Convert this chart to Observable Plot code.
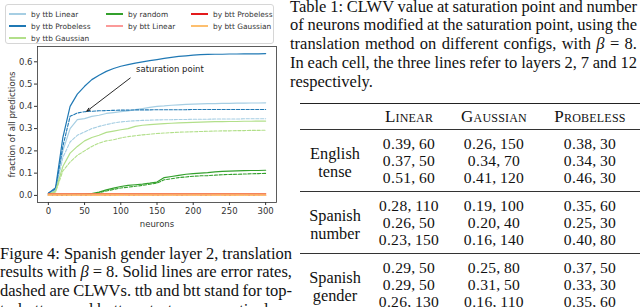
<!DOCTYPE html>
<html>
<head>
<meta charset="utf-8">
<script src="https://cdn.jsdelivr.net/npm/d3@7"></script>
<script src="https://cdn.jsdelivr.net/npm/@observablehq/plot@0.6"></script>
<style>
  html, body { margin: 0; padding: 0; background: #fff; }
  #page { position: relative; width: 640px; height: 307px; overflow: hidden; background: #fff; }
  #chart { position: absolute; left: 0; top: 0; }
  #legend { position: absolute; left: 5px; top: 4px; width: 269px; height: 40px; box-sizing: border-box;
    border: 1px solid #d6d6d6; border-radius: 3px; background: rgba(255,255,255,0.9);
    font-family: "DejaVu Sans", sans-serif; font-size: 7.4px; color: #333;
    display: grid; grid-template-rows: repeat(3, 12px);
    grid-template-columns: 97px 85px auto; padding: 3px 0 0 3px; }
  .li { display: flex; align-items: center; white-space: nowrap; }
  .sw { width: 17px; height: 1.5px; margin-right: 5px; }
  .cap { position: absolute; font-family: "Liberation Serif", "Times New Roman", serif; font-size: 16.5px;
    line-height: 18.8px; color: #111; }
  .cap div { white-space: nowrap; }
  #tbl { position: absolute; left: 300px; top: 103px; border-collapse: collapse;
    font-family: "Liberation Serif", "Times New Roman", serif; font-size: 15.6px; letter-spacing: 0.3px; color: #111; }
  #tbl th { font-weight: normal; font-variant: small-caps; font-size: 17px; letter-spacing: 0.2px; height: 25px; padding: 0; text-align: center; }
  #tbl td { padding: 0; height: 17px; line-height: 17px; text-align: center; }
  #tbl thead tr { border-top: 1.4px solid #222; border-bottom: 0.9px solid #333; }
  #tbl tbody { border-bottom: 0.9px solid #333; }
  #tbl tbody tr:first-child td { padding-top: 5px; }
  #tbl tbody tr:last-child td { padding-bottom: 5px; }
  #tbl td.lab { vertical-align: middle; letter-spacing: 0; }
  #tbl td.lab div { font-size: 16.3px; line-height: 18px; height: 18px; }
</style>
</head>
<body>
<div id="page">
  <div id="chart"></div>
  <div id="legend"></div>
  <div class="cap" id="figcap" style="left:0px; top:244.5px; width:292px;"></div>
  <div class="cap" id="tabcap" style="left:290px; top:-2.5px; width:347px;"></div>
  <table id="tbl"></table>
</div>
<script>
// ---------------- data ----------------
const neurons = [0,10,20,30,40,50,60,70,80,90,100,110,120,130,140,150,160,170,180,190,200,210,220,230,240,250,260,270,280,290,300];

const configs = ["by ttb Linear","by ttb Probeless","by ttb Gaussian","by random","by btt Linear","by btt Probeless","by btt Gaussian"];
const colors  = ["#a6cee3","#1f78b4","#b2df8a","#33a02c","#fb9a99","#e31a1c","#fdbf6f"];

// error rates (solid)
const ttbLinearErr    = [0.01,0.025,0.20,0.30,0.34,0.345,0.355,0.36,0.368,0.372,0.376,0.38,0.385,0.39,0.395,0.40,0.402,0.405,0.407,0.409,0.41,0.411,0.412,0.412,0.413,0.413,0.414,0.414,0.415,0.415,0.416];
const ttbProbelessErr = [0.01,0.035,0.26,0.40,0.455,0.49,0.52,0.54,0.557,0.57,0.58,0.587,0.594,0.60,0.605,0.61,0.615,0.62,0.624,0.627,0.63,0.632,0.633,0.634,0.634,0.635,0.635,0.636,0.636,0.636,0.637];
const ttbGaussianErr  = [0.005,0.02,0.13,0.19,0.22,0.245,0.26,0.27,0.283,0.289,0.295,0.30,0.31,0.315,0.318,0.32,0.322,0.324,0.326,0.327,0.328,0.329,0.33,0.331,0.331,0.332,0.332,0.333,0.333,0.334,0.334];
const randomErr       = [0.004,0.004,0.004,0.004,0.005,0.005,0.008,0.015,0.025,0.033,0.04,0.045,0.048,0.051,0.055,0.06,0.08,0.085,0.09,0.095,0.098,0.10,0.102,0.106,0.108,0.109,0.11,0.111,0.112,0.112,0.113];
const bttLinearErr    = [0.006,0.006,0.006,0.006,0.006,0.006,0.006,0.006,0.006,0.006,0.006,0.006,0.006,0.006,0.006,0.006,0.006,0.006,0.006,0.006,0.006,0.006,0.006,0.006,0.006,0.006,0.006,0.006,0.006,0.006,0.006];
const bttProbelessErr = [0.007,0.007,0.007,0.007,0.007,0.007,0.007,0.007,0.007,0.007,0.007,0.007,0.007,0.007,0.007,0.007,0.007,0.007,0.007,0.007,0.007,0.007,0.007,0.007,0.007,0.007,0.007,0.007,0.007,0.007,0.007];
const bttGaussianErr  = [0.006,0.006,0.006,0.006,0.006,0.006,0.006,0.006,0.006,0.006,0.006,0.006,0.006,0.006,0.006,0.006,0.006,0.006,0.006,0.006,0.006,0.006,0.006,0.006,0.006,0.006,0.006,0.006,0.006,0.006,0.006];

// CLWVs (dashed)
const ttbLinearClwv    = [0.01,0.02,0.17,0.24,0.27,0.285,0.30,0.31,0.318,0.325,0.33,0.333,0.335,0.337,0.338,0.339,0.34,0.34,0.341,0.341,0.342,0.342,0.342,0.343,0.343,0.343,0.343,0.344,0.344,0.344,0.344];
const ttbProbelessClwv = [0.01,0.03,0.22,0.355,0.37,0.376,0.378,0.38,0.381,0.382,0.383,0.383,0.384,0.384,0.384,0.385,0.385,0.385,0.385,0.385,0.386,0.386,0.386,0.386,0.386,0.386,0.386,0.386,0.386,0.386,0.386];
const ttbGaussianClwv  = [0.005,0.015,0.11,0.15,0.18,0.20,0.22,0.235,0.245,0.25,0.258,0.264,0.268,0.272,0.275,0.278,0.28,0.282,0.284,0.285,0.286,0.287,0.288,0.289,0.29,0.29,0.291,0.291,0.292,0.292,0.293];
const randomClwv       = [0.002,0.002,0.002,0.002,0.003,0.003,0.006,0.012,0.02,0.027,0.033,0.037,0.041,0.045,0.05,0.055,0.07,0.075,0.08,0.083,0.086,0.088,0.089,0.091,0.093,0.094,0.095,0.096,0.097,0.098,0.099];
const bttLinearClwv    = [0.0,0.0,0.0,0.0,0.0,0.0,0.0,0.0,0.0,0.0,0.0,0.0,0.0,0.0,0.0,0.0,0.0,0.0,0.0,0.0,0.0,0.0,0.0,0.0,0.0,0.0,0.0,0.0,0.0,0.0,0.0];
const bttProbelessClwv = [0.001,0.001,0.001,0.001,0.001,0.001,0.001,0.001,0.001,0.001,0.001,0.001,0.001,0.001,0.001,0.001,0.001,0.001,0.001,0.001,0.001,0.001,0.001,0.001,0.001,0.001,0.001,0.001,0.001,0.001,0.001];
const bttGaussianClwv  = [0.0,0.0,0.0,0.0,0.0,0.0,0.0,0.0,0.0,0.0,0.0,0.0,0.0,0.0,0.0,0.0,0.0,0.0,0.0,0.0,0.0,0.0,0.0,0.0,0.0,0.0,0.0,0.0,0.0,0.0,0.0];

const errSeries  = [ttbLinearErr, ttbProbelessErr, ttbGaussianErr, randomErr, bttLinearErr, bttProbelessErr, bttGaussianErr];
const clwvSeries = [ttbLinearClwv, ttbProbelessClwv, ttbGaussianClwv, randomClwv, bttLinearClwv, bttProbelessClwv, bttGaussianClwv];

const xTicks = [0,50,100,150,200,250,300];
const yTicks = [0.0,0.1,0.2,0.3,0.4,0.5,0.6];

const annotText  = [{n: 121, v: 0.567, label: "saturation point"}];
const annotArrow = [{n1: 113, v1: 0.527, n2: 53, v2: 0.378}];

const xLabel = "neurons";
const yLabel = "fraction of all predictions";

const figCaption = [
  "Figure 4: Spanish gender layer 2, translation",
  "results with <i>β</i> = 8. Solid lines are error rates,",
  "dashed are CLWVs. ttb and btt stand for top-",
  "to-bottom and bottom-to-top, respectively."
];
const tabCaption = [
  "Table 1: CLWV value at saturation point and number",
  "of neurons modified at the saturation point, using the",
  "translation method on different configs, with <i>β</i> = 8.",
  "In each cell, the three lines refer to layers 2, 7 and 12",
  "respectively."
];
const tableHeader = ["Linear", "Gaussian", "Probeless"];
const tableGroups = [["English", "tense"], ["Spanish", "number"], ["Spanish", "gender"]];
const tableValues = [
  [[[0.39,60],[0.26,150],[0.38,30]], [[0.37,50],[0.34,70],[0.34,30]], [[0.51,60],[0.41,120],[0.46,30]]],
  [[[0.28,110],[0.19,100],[0.35,60]], [[0.26,50],[0.20,40],[0.25,30]], [[0.23,150],[0.16,140],[0.40,80]]],
  [[[0.29,50],[0.25,80],[0.37,50]], [[0.29,50],[0.31,50],[0.33,30]], [[0.26,130],[0.16,110],[0.35,60]]]
];

// ---------------- chart ----------------
const marks = [];
configs.forEach((c, i) => {
  const solid = neurons.map((n, j) => ({n, v: errSeries[i][j]}));
  const dashed = neurons.map((n, j) => ({n, v: clwvSeries[i][j]}));
  marks.push(Plot.line(solid, {x: "n", y: "v", stroke: colors[i], strokeWidth: 1.2}));
  marks.push(Plot.line(dashed, {x: "n", y: "v", stroke: colors[i], strokeWidth: 1.1, strokeDasharray: "3.2,1.6"}));
});

const chart = Plot.plot({
  width: 290, height: 230,
  marginLeft: 37, marginRight: 14, marginTop: 46, marginBottom: 28,
  style: {fontFamily: "DejaVu Sans, sans-serif", fontSize: "8.5px", color: "#333", background: "transparent"},
  x: {domain: [-15, 315]},
  y: {domain: [-0.0318, 0.6687]},
  marks: [
    ...marks,
    Plot.arrow(annotArrow, {x1: "n1", y1: "v1", x2: "n2", y2: "v2", stroke: "#111", strokeWidth: 0.9, headLength: 6, headAngle: 40}),
    Plot.text(annotText, {x: "n", y: "v", text: "label", textAnchor: "start", fill: "#222", fontSize: 8.5}),
    Plot.frame({stroke: "#333", strokeWidth: 0.8}),
    Plot.axisX({ticks: xTicks, tickSize: 3, tickPadding: 2, label: xLabel, labelAnchor: "center", labelArrow: "none", labelOffset: 24}),
    Plot.axisY({ticks: yTicks, tickSize: 3, tickPadding: 2, tickFormat: d3.format(".1f"), label: yLabel, labelAnchor: "center", labelArrow: "none", labelOffset: 29})
  ]
});
document.getElementById("chart").appendChild(chart);

// legend (matplotlib ncol=3 column-major fill: first columns get the extra entries)
const leg = document.getElementById("legend");
const ncol = 3;
const base = Math.floor(configs.length / ncol), extra = configs.length % ncol;
let idx = 0;
for (let col = 0; col < ncol; col++) {
  const count = base + (col < extra ? 1 : 0);
  for (let r = 0; r < count; r++, idx++) {
    const d = document.createElement("div");
    d.className = "li";
    d.style.gridColumn = String(col + 1);
    d.style.gridRow = String(r + 1);
    d.innerHTML = `<span class="sw" style="background:${colors[idx]}"></span><span>${configs[idx]}</span>`;
    leg.appendChild(d);
  }
}

// captions, justified per line
function fillCaption(id, lines, width) {
  const el = document.getElementById(id);
  lines.forEach((t, k) => {
    const d = document.createElement("div");
    const s = document.createElement("span");
    s.innerHTML = t;
    d.appendChild(s);
    el.appendChild(d);
    if (k < lines.length - 1) {
      const w = s.getBoundingClientRect().width;
      const spaces = (s.textContent.match(/ /g) || []).length;
      if (spaces > 0) s.style.wordSpacing = ((width - w) / spaces) + "px";
    }
  });
}
fillCaption("figcap", figCaption, 292);
fillCaption("tabcap", tabCaption, 347);

// table
const fmt = d3.format(".2f");
let html = `<colgroup><col style="width:70px"><col style="width:78px"><col style="width:92px"><col style="width:100px"></colgroup>`;
html += `<thead><tr><th></th>${tableHeader.map(h => `<th>${h}</th>`).join("")}</tr></thead>`;
tableGroups.forEach((g, gi) => {
  html += "<tbody>";
  tableValues[gi].forEach((row, ri) => {
    html += "<tr>";
    if (ri === 0) html += `<td class="lab" rowspan="3"><div>${g[0]}</div><div>${g[1]}</div></td>`;
    html += row.map(([v, n]) => `<td>${fmt(v)},&thinsp;${n}</td>`).join("");
    html += "</tr>";
  });
  html += "</tbody>";
});
document.getElementById("tbl").innerHTML = html;
</script>
</body>
</html>
